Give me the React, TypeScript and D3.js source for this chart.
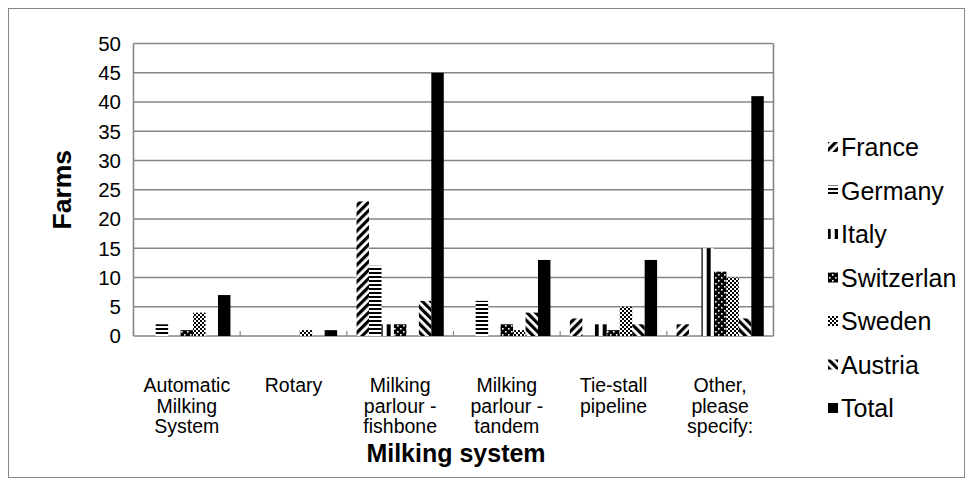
import React from "react";
import * as d3 from "d3";

const categories: string[][] = [
  ["Automatic", "Milking", "System"],
  ["Rotary"],
  ["Milking", "parlour -", "fishbone"],
  ["Milking", "parlour -", "tandem"],
  ["Tie-stall", "pipeline"],
  ["Other,", "please", "specify:"],
];
const seriesNames = ["France", "Germany", "Italy", "Switzerlan", "Sweden", "Austria", "Total"];
const france = [0, 0, 23, 0, 3, 2];
const germany = [2, 0, 12, 6, 0, 0];
const italy = [0, 0, 2, 0, 2, 15];
const switzerland = [1, 0, 2, 2, 1, 11];
const sweden = [4, 1, 0, 1, 5, 10];
const austria = [0, 0, 6, 4, 2, 3];
const total = [7, 1, 45, 13, 13, 41];
const seriesValues = [france, germany, italy, switzerland, sweden, austria, total];
const yTicks = [0, 5, 10, 15, 20, 25, 30, 35, 40, 45, 50];

const W = 973;
const H = 486;
const plotL = 133.5;
const plotR = 773.5;
const plotT = 43.5;
const plotB = 336;
const GRAY = "#868686";
const FONT = "'Liberation Sans', Arial, sans-serif";

export default function App() {
  const catKeys = categories.map((c) => c.join(" "));
  const x0 = d3.scaleBand<string>().domain(catKeys).range([plotL, plotR]);
  const x1 = d3
    .scaleBand<string>()
    .domain(seriesNames)
    .range([0, x0.bandwidth()])
    .paddingOuter(0.78)
    .paddingInner(0);
  const y = d3.scaleLinear().domain([0, 50]).range([plotB, plotT]);
  const fills = [
    "url(#pFrance)",
    "url(#pGermany)",
    "url(#pItaly)",
    "url(#pSwiss)",
    "url(#pSweden)",
    "url(#pAustria)",
    "#000",
  ];
  const legendY0 = 147;
  const legendStep = 43.5;

  return (
    <svg
      width={W}
      height={H}
      style={{ position: "absolute", left: 0, top: 0, background: "#fff" }}
      fontFamily={FONT}
    >
      <defs>
        <pattern id="pFrance" width={6} height={6} patternUnits="userSpaceOnUse" patternTransform="rotate(45)">
          <rect width={6} height={6} fill="#fff" />
          <rect width={3.2} height={6} fill="#000" />
        </pattern>
        <pattern id="pAustria" width={6} height={6} patternUnits="userSpaceOnUse" patternTransform="rotate(-45)">
          <rect width={6} height={6} fill="#fff" />
          <rect width={3.2} height={6} fill="#000" />
        </pattern>
        <pattern id="pGermany" width={4} height={4} patternUnits="userSpaceOnUse">
          <rect width={4} height={4} fill="#fff" />
          <rect width={4} height={2} fill="#000" />
        </pattern>
        <pattern id="pItaly" width={8} height={8} patternUnits="userSpaceOnUse" x={2.7}>
          <rect width={8} height={8} fill="#fff" />
          <rect width={4} height={8} fill="#000" />
        </pattern>
        <pattern id="pSwiss" width={6} height={6} patternUnits="userSpaceOnUse">
          <rect width={6} height={6} fill="#000" />
          <rect x={1} y={1} width={1.6} height={1.6} fill="#fff" />
          <rect x={4} y={4} width={1.6} height={1.6} fill="#fff" />
        </pattern>
        <pattern id="pSweden" width={4} height={4} patternUnits="userSpaceOnUse">
          <rect width={4} height={4} fill="#fff" />
          <rect width={2} height={2} fill="#000" />
          <rect x={2} y={2} width={2} height={2} fill="#000" />
        </pattern>
      </defs>

      <rect x={8.5} y={8.5} width={956} height={469} fill="#fff" stroke={GRAY} strokeWidth={1} />

      {/* gridlines */}
      {yTicks.map((t) => (
        <line key={"g" + t} x1={plotL} x2={plotR} y1={y(t)} y2={y(t)} stroke={GRAY} strokeWidth={1.6} />
      ))}
      <line x1={plotR} x2={plotR} y1={plotT} y2={plotB} stroke={GRAY} strokeWidth={1.6} />
      <line x1={plotL} x2={plotL} y1={plotT} y2={plotB} stroke={GRAY} strokeWidth={1.6} />

      {/* x tick marks (inside) */}
      {catKeys.map((k, i) => (
        <line key={"xt" + i} x1={x0(k)!} x2={x0(k)!} y1={plotB} y2={plotB - 5} stroke={GRAY} strokeWidth={1.2} />
      ))}

      {/* bars */}
      {catKeys.map((k, ci) =>
        seriesNames.map((s, si) => {
          const v = seriesValues[si][ci];
          if (!v) return null;
          return (
            <rect
              key={k + s}
              x={x0(k)! + x1(s)!}
              y={y(v)}
              width={x1.bandwidth()}
              height={y(0) - y(v)}
              fill={fills[si]}
            />
          );
        })
      )}

      {/* y tick labels */}
      {yTicks.map((t) => (
        <text key={"yl" + t} x={121} y={y(t)} dy="0.36em" textAnchor="end" fontSize={20.5} fill="#000">
          {t}
        </text>
      ))}

      {/* category labels */}
      {catKeys.map((k, i) =>
        categories[i].map((line, li) => (
          <text
            key={k + li}
            x={x0(k)! + x0.bandwidth() / 2}
            y={385 + li * 20.5}
            dy="0.36em"
            textAnchor="middle"
            fontSize={19.5}
            fill="#000"
          >
            {line}
          </text>
        ))
      )}

      {/* axis titles */}
      <text x={456} y={462} textAnchor="middle" fontSize={25} fontWeight="bold" fill="#000">
        Milking system
      </text>
      <text
        transform={`translate(71, ${(plotT + plotB) / 2}) rotate(-90)`}
        textAnchor="middle"
        fontSize={26.5}
        fontWeight="bold"
        fill="#000"
      >
        Farms
      </text>

      {/* legend */}
      {seriesNames.map((s, i) => (
        <g key={"lg" + s}>
          <rect x={828} y={legendY0 + i * legendStep - 5} width={10} height={10} fill={fills[i]} />
          <text x={841} y={legendY0 + i * legendStep} dy="0.36em" fontSize={25} fill="#000">
            {s}
          </text>
        </g>
      ))}
    </svg>
  );
}
